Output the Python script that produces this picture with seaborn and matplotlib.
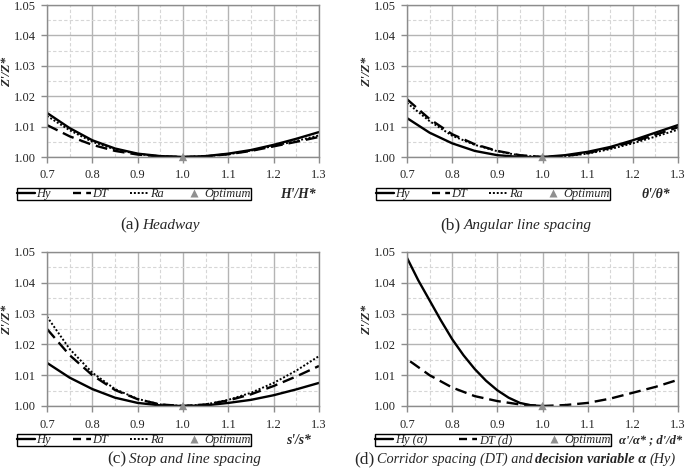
import matplotlib
matplotlib.use("Agg")
import matplotlib.pyplot as plt
import seaborn as sns
from matplotlib.lines import Line2D
from matplotlib.offsetbox import TextArea, HPacker, AnchoredOffsetbox

# ---- data ----
x_ratio = [0.70, 0.75, 0.80, 0.85, 0.90, 0.95, 1.00, 1.05, 1.10, 1.15, 1.20, 1.25, 1.30]

# (a) headway
hw_hy = [1.0145, 1.0095, 1.0055, 1.0028, 1.0011, 1.0003, 1.0000, 1.0003, 1.0011, 1.0023, 1.0040, 1.0060, 1.0082]
hw_dt = [1.0105, 1.0068, 1.0040, 1.0020, 1.0008, 1.0002, 1.0000, 1.0002, 1.0009, 1.0020, 1.0035, 1.0050, 1.0066]
hw_ra = [1.0135, 1.0088, 1.0050, 1.0025, 1.0010, 1.0002, 1.0000, 1.0002, 1.0009, 1.0021, 1.0036, 1.0053, 1.0071]

# (b) angular line spacing
an_hy = [1.0128, 1.0080, 1.0045, 1.0020, 1.0006, 1.0000, 1.0000, 1.0006, 1.0017, 1.0033, 1.0055, 1.0080, 1.0105]
an_dt = [1.0190, 1.0125, 1.0075, 1.0042, 1.0020, 1.0006, 1.0000, 1.0003, 1.0013, 1.0030, 1.0050, 1.0073, 1.0098]
an_ra = [1.0178, 1.0118, 1.0070, 1.0040, 1.0019, 1.0005, 1.0000, 1.0003, 1.0011, 1.0026, 1.0045, 1.0067, 1.0090]

# (c) stop and line spacing
st_hy = [1.0140, 1.0092, 1.0055, 1.0027, 1.0010, 1.0002, 1.0000, 1.0002, 1.0010, 1.0020, 1.0035, 1.0054, 1.0075]
st_dt = [1.0250, 1.0165, 1.0100, 1.0052, 1.0022, 1.0005, 1.0000, 1.0005, 1.0018, 1.0038, 1.0065, 1.0096, 1.0130]
st_ra = [1.0290, 1.0185, 1.0108, 1.0055, 1.0023, 1.0005, 1.0000, 1.0005, 1.0020, 1.0043, 1.0075, 1.0115, 1.0162]

# (d) corridor spacing (DT) and decision variable alpha (Hy)
al_x = [0.700, 0.725, 0.750, 0.775, 0.800, 0.825, 0.850, 0.875, 0.900, 0.925, 0.950, 0.975, 1.000]
al_hy = [1.0481, 1.0408, 1.0343, 1.0278, 1.0217, 1.0165, 1.0120, 1.0082, 1.0051, 1.0027, 1.0010, 1.0002, 1.0000]
cd_x = [0.707, 0.75, 0.80, 0.85, 0.90, 0.95, 1.00, 1.05, 1.10, 1.15, 1.20, 1.25, 1.30]
cd_dt = [1.0145, 1.0100, 1.0060, 1.0032, 1.0016, 1.0005, 1.0000, 1.0003, 1.0010, 1.0024, 1.0043, 1.0062, 1.0085]

opt_x = [1.0]
opt_y = [1.0]

x_ticks = [0.7, 0.8, 0.9, 1.0, 1.1, 1.2, 1.3]
y_ticks = [1.00, 1.01, 1.02, 1.03, 1.04, 1.05]

sns.set_style("white")
SERIF = ["Liberation Serif", "DejaVu Serif"]
plt.rcParams["font.family"] = SERIF

fig = plt.figure(figsize=(6.85, 4.72), dpi=100)

W, H = 685.0, 472.0
def fx(px):
    return px / W
def fy(py):
    return 1 - py / H

DASH = (0, (5, 2.5))
DOT = (0, (1, 1))
GRID = "#b4b4b4"


def style_axes(ax):
    ax.set_xlim(0.7, 1.3)
    ax.set_ylim(1.0, 1.05)
    ax.set_xticks(x_ticks)
    ax.set_xticklabels([f"{v:.1f}" for v in x_ticks])
    ax.set_yticks(y_ticks)
    ax.set_yticklabels([f"{v:.2f}" for v in y_ticks])
    ax.set_xticks([0.75, 0.85, 0.95, 1.05, 1.15, 1.25], minor=True)
    ax.set_yticks([1.005, 1.015, 1.025, 1.035, 1.045], minor=True)
    ax.grid(True, which="major", color=GRID, lw=1.0, ls="-")
    ax.grid(True, which="minor", color="#d6d6d6", lw=0.8, ls=(0, (3, 2)))
    ax.set_axisbelow(True)
    ax.tick_params(which="major", direction="out", length=4, width=1.0, color="#8c8c8c",
                   labelsize=8.9, bottom=True, left=True)
    ax.tick_params(which="minor", length=0)
    ax.tick_params(axis="x", pad=5)
    ax.tick_params(axis="y", pad=4)
    for s in ax.spines.values():
        s.set_color("#8c8c8c")
        s.set_linewidth(1.0)
    ax.set_xlabel("")
    ax.set_ylabel("Z'/Z*", fontsize=9.5, fontweight="bold", fontstyle="italic")
    ax.yaxis.set_label_coords(-0.125, 0.56)


def draw_opt(ax):
    sns.scatterplot(x=opt_x, y=opt_y, ax=ax, marker="^", color="#8f8f8f", s=36,
                    edgecolor="none", clip_on=False, zorder=5, legend=False)


def add_legend(handles, labels, cx, cy, colsp):
    leg = fig.legend(handles, labels, loc="center", ncol=len(handles),
                     bbox_to_anchor=(fx(cx), fy(cy)),
                     borderaxespad=0, frameon=True, fancybox=False,
                     edgecolor="black", framealpha=1, borderpad=0.12,
                     handlelength=1.45, handletextpad=0.15, columnspacing=colsp,
                     prop={"family": SERIF, "style": "italic", "size": 8.9})
    leg.get_frame().set_linewidth(1.0)
    leg._legend_box.pad = 0
    return leg


def caption(parts, x, y, loc="center"):
    boxes = [TextArea(t, textprops=dict(family=SERIF, **kw)) for t, kw in parts]
    pack = HPacker(children=boxes, align="baseline", pad=0, sep=2)
    ab = AnchoredOffsetbox(loc=loc, child=pack, frameon=False, pad=0, borderpad=0,
                           bbox_to_anchor=(fx(x), fy(y)), bbox_transform=fig.transFigure)
    fig.add_artist(ab)


def three_panel(ax, hy, dt, ra):
    sns.lineplot(x=x_ratio, y=hy, ax=ax, color="black", lw=1.7, ls="-")
    sns.lineplot(x=x_ratio, y=dt, ax=ax, color="black", lw=1.7, ls=DASH)
    sns.lineplot(x=x_ratio, y=ra, ax=ax, color="black", lw=1.4, ls=DOT)
    draw_opt(ax)
    style_axes(ax)


h_hy = Line2D([], [], color="black", lw=1.7, ls="-")
h_dt = Line2D([], [], color="black", lw=1.7, ls=(0, (3.4, 2.2)))
h_ra = Line2D([], [], color="black", lw=1.4, ls=DOT)
h_opt = Line2D([], [], color="#8f8f8f", marker="^", ls="none", markersize=5.5, markeredgecolor="none")

ax_pos = {
    "a": [fx(47), fy(157), fx(319) - fx(47), fy(5) - fy(157)],
    "b": [fx(407), fy(157), fx(678) - fx(407), fy(5) - fy(157)],
    "c": [fx(47), fy(406), fx(319) - fx(47), fy(252) - fy(406)],
    "d": [fx(407), fy(406), fx(678) - fx(407), fy(252) - fy(406)],
}

xlab_kw = dict(fontsize=9.8, fontweight="bold", fontstyle="italic", ha="center", va="center")
cap_num = dict(size=12.5)
cap_txt = dict(size=11, style="italic")

# (a)
ax = fig.add_axes(ax_pos["a"])
three_panel(ax, hw_hy, hw_dt, hw_ra)
add_legend([h_hy, h_dt, h_ra, h_opt], ["Hy", "DT", "Ra", "Optimum"], 134, 194, 1.75)
fig.text(fx(298), fy(194), "H'/H*", **xlab_kw)
caption([("(a)", cap_num), ("Headway", cap_txt)], 160, 225)

# (b)
ax = fig.add_axes(ax_pos["b"])
three_panel(ax, an_hy, an_dt, an_ra)
add_legend([h_hy, h_dt, h_ra, h_opt], ["Hy", "DT", "Ra", "Optimum"], 493, 194, 1.75)
fig.text(fx(656), fy(194), "θ'/θ*", **xlab_kw)
caption([("(b)", cap_num), ("Angular line spacing", cap_txt)], 516, 225)

# (c)
ax = fig.add_axes(ax_pos["c"])
three_panel(ax, st_hy, st_dt, st_ra)
add_legend([h_hy, h_dt, h_ra, h_opt], ["Hy", "DT", "Ra", "Optimum"], 134, 440, 1.75)
fig.text(fx(299), fy(440), "s'/s*", **xlab_kw)
caption([("(c)", cap_num), ("Stop and line spacing", cap_txt)], 184, 459)

# (d)
ax = fig.add_axes(ax_pos["d"])
sns.lineplot(x=al_x, y=al_hy, ax=ax, color="black", lw=1.7, ls="-")
sns.lineplot(x=cd_x, y=cd_dt, ax=ax, color="black", lw=1.7, ls=DASH)
draw_opt(ax)
style_axes(ax)
add_legend([h_hy, h_dt, h_opt], ["Hy (α)", "DT (d)", "Optimum"], 493, 440, 2.6)
fig.text(fx(651), fy(440), "α'/α* ; d'/d*", **dict(xlab_kw, fontsize=9.0))
cap_txt_d = dict(size=10.3, style="italic")
caption([("(d)", cap_num),
         ("Corridor spacing (DT) and", cap_txt_d),
         ("decision variable α", dict(cap_txt_d, weight="bold")),
         ("(Hy)", cap_txt_d)], 354, 459, loc="center left")

fig.savefig("out.png", dpi=100)
